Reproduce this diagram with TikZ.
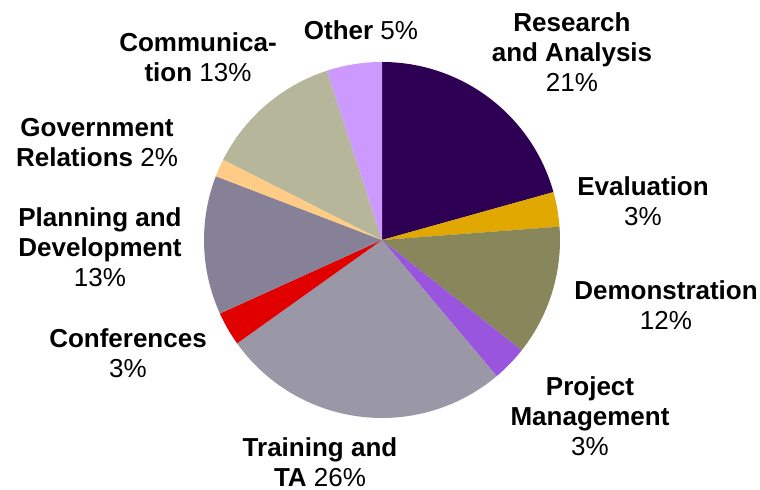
\documentclass[tikz,border=0pt]{standalone}
\usepackage{fontspec}
\setmainfont{Liberation Sans}
\usepackage{xcolor}
\definecolor{ResearchCol}{HTML}{2E0054}
\definecolor{EvalCol}{HTML}{E0A800}
\definecolor{DemoCol}{HTML}{87875B}
\definecolor{ProjCol}{HTML}{9955DD}
\definecolor{TrainCol}{HTML}{9A97A6}
\definecolor{ConfCol}{HTML}{E00000}
\definecolor{PlanCol}{HTML}{878197}
\definecolor{GovCol}{HTML}{FFCC88}
\definecolor{CommCol}{HTML}{B6B69B}
\definecolor{OtherCol}{HTML}{CC99FF}

\begin{document}
\begin{tikzpicture}[x=0.5pt,y=0.5pt]
\tikzset{lbl style/.style={align=center, inner sep=0pt, font=\fontsize{13}{15}\selectfont}}
\tikzset{slice style/.style={fill=#1, draw=none}}
\useasboundingbox (0,0) rectangle (760,-490);
\coordinate (O) at (382,-240);
% slices, clockwise from the top
\foreach \a/\b/\c in {90/15.6/ResearchCol, 15.6/4.3/EvalCol, 4.3/-38.3/DemoCol,
  -38.3/-49.9/ProjCol, -49.9/-144.5/TrainCol, -144.5/-155.6/ConfCol,
  -155.6/-201/PlanCol, -201/-206.85/GovCol, -206.85/-252/CommCol, -252/-270/OtherCol}
  \path[slice style=\c] (O) -- ++(\a:89pt) arc[start angle=\a, end angle=\b, radius=89pt] -- cycle;
% labels
\node[lbl style] (RA) at (572,-52) {\textbf{Research}\\\textbf{and Analysis}\\21\%};
\node[lbl style] (EV) at (643,-201) {\textbf{Evaluation}\\3\%};
\node[lbl style] (DE) at (666,-305) {\textbf{Demonstration}\\12\%};
\node[lbl style] (PM) at (590,-416) {\textbf{Project}\\\textbf{Management}\\3\%};
\node[lbl style] (TR) at (320,-462) {\textbf{Training and}\\\textbf{TA} 26\%};
\node[lbl style] (CF) at (128,-353) {\textbf{Conferences}\\3\%};
\node[lbl style] (PD) at (100,-247) {\textbf{Planning and}\\\textbf{Development}\\13\%};
\node[lbl style] (GR) at (97,-143) {\textbf{Government}\\\textbf{Relations} 2\%};
\node[lbl style] (CM) at (198,-57) {\textbf{Communica-}\\\textbf{tion} 13\%};
\node[lbl style] (OT) at (361,-30) {\textbf{Other} 5\%};
\end{tikzpicture}
\end{document}
